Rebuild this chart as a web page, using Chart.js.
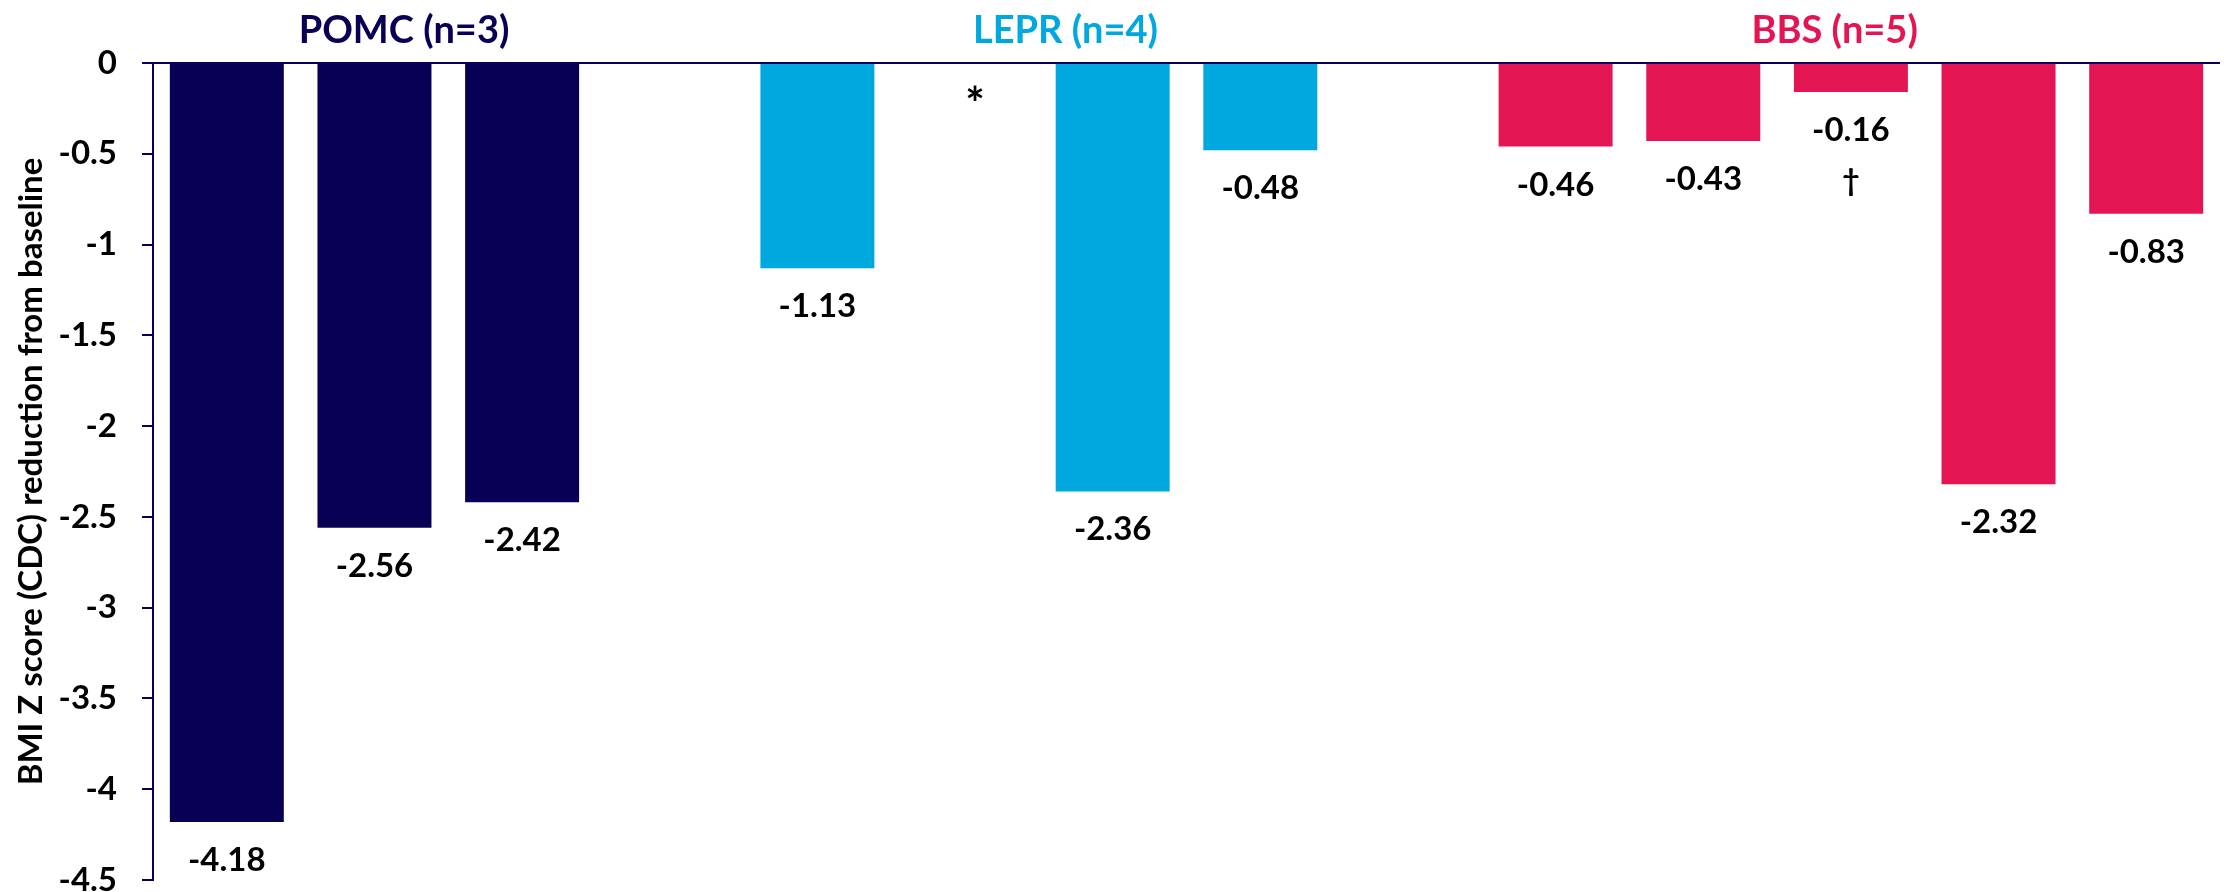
<!DOCTYPE html>
<html>
<head>
<meta charset="utf-8">
<script src="https://cdn.jsdelivr.net/npm/chart.js@4.4.1/dist/chart.umd.min.js"></script>
<style>
  html, body { margin: 0; padding: 0; background: #ffffff; }
  #wrap { width: 2224px; height: 892px; position: relative; }
</style>
</head>
<body>
<div id="wrap"><canvas id="chart"></canvas></div>
<script>
// Per-patient change in BMI Z score, grouped by genotype
const groupNames = ['POMC (n=3)', 'LEPR (n=4)', 'BBS (n=5)'];
const pomcValues = [-4.18, -2.56, -2.42];
const leprValues = [-1.13, null, -2.36, -0.48];
const bbsValues  = [-0.46, -0.43, -0.16, -2.32, -0.83];
const leprNotes  = [null, '*', null, null];
const bbsNotes   = [null, null, '\u2020', null, null];
const yTickValues = [0, -0.5, -1, -1.5, -2, -2.5, -3, -3.5, -4, -4.5];

const groupColors = ['#070055', '#00A8E0', '#E31552'];
const groupValues = [pomcValues, leprValues, bbsValues];
const groupNotes  = [[null, null, null], leprNotes, bbsNotes];

// one category per patient, with an empty slot between genotypes
const categories = [];
groupValues.forEach((vals, g) => {
  if (g > 0) categories.push('');
  vals.forEach((_, i) => categories.push(groupNames[g].split(' ')[0] + ' ' + (i + 1)));
});

function spread(g, source) {
  const out = [];
  groupValues.forEach((vals, k) => {
    if (k > 0) out.push(null);
    vals.forEach((_, i) => out.push(k === g ? source[k][i] : null));
  });
  return out;
}

const datasets = groupNames.map((name, g) => ({
  label: name,
  data: spread(g, groupValues),
  notes: spread(g, groupNotes),
  backgroundColor: groupColors[g],
  borderWidth: 0,
  grouped: false,
  categoryPercentage: 1,
  barPercentage: 0.772
}));

const FONT = 'Lato';

// value labels under each bar, plus footnote marks
const barLabels = {
  id: 'barLabels',
  afterDatasetsDraw(chart, args, opts) {
    const ctx = chart.ctx;
    const xs = chart.scales.x, ys = chart.scales.y;
    ctx.save();
    ctx.textAlign = 'center';
    ctx.fillStyle = '#000000';
    chart.data.datasets.forEach((ds, di) => {
      const meta = chart.getDatasetMeta(di);
      ds.data.forEach((v, i) => {
        const note = ds.notes[i];
        if (v !== null && v !== undefined) {
          const el = meta.data[i];
          ctx.font = 'bold ' + opts.size + 'px ' + FONT;
          ctx.textBaseline = 'alphabetic';
          ctx.fillText(v.toFixed(2), el.x, el.y + opts.gap);
          if (note) {
            ctx.font = 'bold ' + opts.noteSize + 'px ' + FONT;
            ctx.fillText(note, el.x, el.y + opts.gap + opts.noteGap);
          }
        } else if (note) {
          ctx.font = 'bold ' + opts.starSize + 'px ' + FONT;
          ctx.textBaseline = 'alphabetic';
          ctx.fillText(note, xs.getPixelForValue(i) + opts.starShift, ys.getPixelForValue(0) + opts.starGap);
        }
      });
    });
    ctx.restore();
  }
};

// genotype headings above the plot
const groupTitles = {
  id: 'groupTitles',
  afterDraw(chart, args, opts) {
    const ctx = chart.ctx;
    const xs = chart.scales.x;
    ctx.save();
    ctx.textAlign = 'center';
    ctx.textBaseline = 'alphabetic';
    ctx.font = 'bold ' + opts.size + 'px ' + FONT;
    groupNames.forEach((name, g) => {
      ctx.fillStyle = groupColors[g];
      ctx.fillText(name, xs.getPixelForValue(opts.at[g]), opts.baseline);
    });
    ctx.restore();
  }
};

function build() {
  new Chart(document.getElementById('chart'), {
    type: 'bar',
    data: { labels: categories, datasets },
    plugins: [barLabels, groupTitles],
    options: {
      responsive: true,
      maintainAspectRatio: false,
      animation: false,
      devicePixelRatio: 1,
      layout: { padding: { top: 63, right: 4, bottom: 12, left: 0 } },
      plugins: {
        legend: { display: false },
        tooltip: { enabled: false },
        barLabels: { size: 33, gap: 49, noteSize: 30, noteGap: 50, starSize: 46, starGap: 57, starShift: 10 },
        groupTitles: { size: 38, baseline: 43, at: [1.2, 5.68, 10.89] }
      },
      scales: {
        x: { display: false, offset: true },
        y: {
          min: -4.5,
          max: 0,
          position: 'left',
          afterBuildTicks: s => { s.ticks = yTickValues.map(v => ({ value: v })); },
          afterFit: s => { s.width = 153; s.paddingTop = 0; s.paddingBottom = 0; },
          border: { display: true, color: '#070055', width: 2 },
          grid: {
            drawOnChartArea: true,
            color: c => (c.tick && c.tick.value === 0) ? '#070055' : 'rgba(0,0,0,0)',
            lineWidth: 2,
            drawTicks: true,
            tickLength: 11,
            tickColor: '#070055',
            tickWidth: 2
          },
          ticks: {
            color: '#000000',
            padding: 25,
            font: { family: FONT, weight: 'bold', size: 33 },
            callback: v => String(Math.round(v * 10) / 10)
          },
          title: {
            display: true,
            text: 'BMI Z score (CDC) reduction from baseline',
            color: '#000000',
            font: { family: FONT, weight: 'bold', size: 33 },
            padding: { top: 12, bottom: 0 }
          }
        }
      }
    }
  });
}

if (document.fonts && document.fonts.load) {
  Promise.all([
    document.fonts.load('bold 33px Lato'),
    document.fonts.load('bold 38px Lato')
  ]).then(build, build);
} else {
  build();
}
</script>
</body>
</html>
